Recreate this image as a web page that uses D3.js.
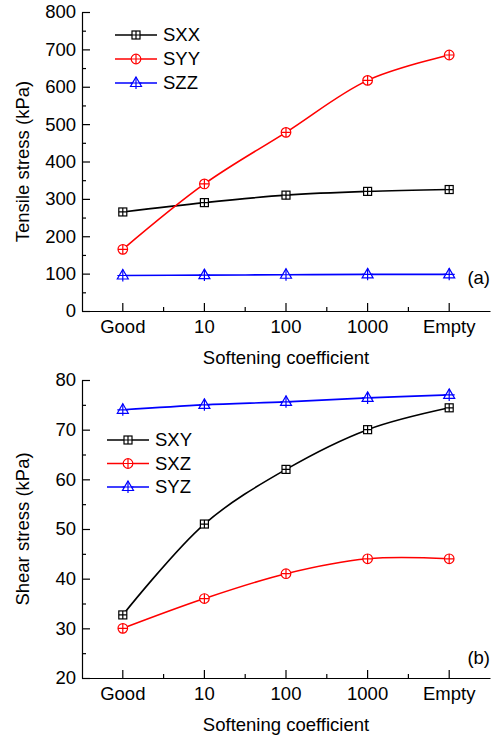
<!DOCTYPE html>
<html><head><meta charset="utf-8">
<script src="https://cdn.jsdelivr.net/npm/d3@7"></script>
<style>body{margin:0;background:#fff}svg{display:block}text{font-family:"Liberation Sans",Arial,sans-serif;fill:#000}</style>
</head><body><svg id="c" width="497" height="736"></svg>
<script>
const categories = ["Good","10","100","1000","Empty"];
const sxx = [265, 290, 310, 320, 325];
const syy = [165, 340, 478, 617, 685];
const szz = [95, 96, 97, 98, 98];
const sxy = [32.7, 51, 62, 70, 74.4];
const sxz = [30, 36, 41, 44, 44];
const syz = [74, 75, 75.6, 76.4, 77];
const topTicks = [0,100,200,300,400,500,600,700,800];
const botTicks = [20,30,40,50,60,70,80];

const svg = d3.select("#c");
const FS = 18.5;
const colors = {black:"#000", red:"#ff0000", blue:"#0000ff"};

function marker(g, type, color){
  if(type==="square"){
    g.append("rect").attr("x",-4).attr("y",-4).attr("width",8).attr("height",8).attr("fill","#fff").attr("stroke",color).attr("stroke-width",1.2);
    g.append("path").attr("d","M-4,0H4M0,-4V4").attr("stroke",color).attr("stroke-width",1.2);
  } else if(type==="circle"){
    g.append("circle").attr("r",4.8).attr("fill","#fff").attr("stroke",color).attr("stroke-width",1.2);
    g.append("path").attr("d","M-4.8,0H4.8M0,-4.8V4.8").attr("stroke",color).attr("stroke-width",1.2);
  } else {
    g.append("path").attr("d","M0,-6L5.5,3.5L-5.5,3.5Z").attr("fill","#fff").attr("stroke",color).attr("stroke-width",1.2);
    g.append("path").attr("d","M0,-6V6M-5.5,0H5.5").attr("stroke",color).attr("stroke-width",1.2);
  }
}

function panel(opts){
  const x = d3.scaleBand().domain(categories).range([82,490]);
  const y = d3.scaleLinear().domain(opts.ydom).range([opts.y0, opts.y1]);
  const g = svg.append("g");
  g.append("g").attr("transform","translate(82,0)")
    .call(d3.axisLeft(y).tickValues(opts.minor).tickSize(-4).tickSizeOuter(0).tickFormat(""))
    .call(s=>s.select(".domain").remove())
    .call(s=>s.selectAll("line").attr("stroke","#000").attr("stroke-width",1.2));
  g.append("g").attr("transform","translate(82,0)")
    .call(d3.axisLeft(y).tickValues(opts.ticks).tickSize(-8).tickSizeOuter(0).tickPadding(6))
    .call(s=>s.selectAll("text").style("font-size",FS+"px").attr("font-family","Liberation Sans, Arial"))
    .call(s=>s.selectAll("line,path").attr("stroke","#000").attr("stroke-width",1.2));
  g.append("g").attr("transform",`translate(0,${opts.y0})`)
    .call(d3.axisBottom(x).tickSize(-8).tickSizeOuter(0).tickPadding(9))
    .call(s=>s.selectAll("text").style("font-size",FS+"px").attr("font-family","Liberation Sans, Arial"))
    .call(s=>s.selectAll("line,path").attr("stroke","#000").attr("stroke-width",1.2));
  g.append("g").selectAll("line").data(categories.slice(1)).join("line")
    .attr("x1",d=>x(d)).attr("x2",d=>x(d)).attr("y1",opts.y0).attr("y2",opts.y0-4)
    .attr("stroke","#000").attr("stroke-width",1.2);
  g.append("text").attr("x",(82+490)/2).attr("y",opts.y0+53).attr("text-anchor","middle").style("font-size",FS+"px").text("Softening coefficient");
  g.append("text").attr("transform",`translate(29,${(opts.y0+opts.y1)/2}) rotate(-90)`).attr("text-anchor","middle").style("font-size",FS+"px").text(opts.ytitle);
  g.append("text").attr("x",490).attr("y",y(opts.labelY)).attr("dy","0.35em").attr("text-anchor","end").style("font-size",FS+"px").text(opts.label);

  const cx = d => x(d)+x.bandwidth()/2;
  const line = d3.line().x((d,i)=>cx(categories[i])).y(d=>y(d)).curve(d3.curveCatmullRom.alpha(0.5));
  opts.series.forEach(s=>{
    g.append("path").datum(s.values).attr("d",line).attr("fill","none").attr("stroke",s.color).attr("stroke-width",1.6);
  });
  opts.series.forEach(s=>{
    s.values.forEach((v,i)=>{
      const m = g.append("g").attr("transform",`translate(${cx(categories[i])},${y(v)})`);
      marker(m, s.type, s.color);
    });
  });
  opts.series.forEach((s,i)=>{
    const ly = opts.legY + i*opts.legDy;
    const lg = g.append("g").attr("transform",`translate(${opts.legX},${ly})`);
    lg.append("line").attr("x1",0).attr("x2",42).attr("stroke",s.color).attr("stroke-width",1.6);
    const m = lg.append("g").attr("transform","translate(21,0)");
    marker(m, s.type, s.color);
    lg.append("text").attr("x",48).attr("dy","0.35em").style("font-size",FS+"px").text(s.name);
  });
}

panel({ydom:[0,800], y0:311, y1:12, ticks:topTicks, minor:d3.range(50,800,100),
  ytitle:"Tensile stress (kPa)", label:"(a)", labelY:90,
  legX:115, legY:35, legDy:24,
  series:[{name:"SXX",values:sxx,color:colors.black,type:"square"},
          {name:"SYY",values:syy,color:colors.red,type:"circle"},
          {name:"SZZ",values:szz,color:colors.blue,type:"tri"}]});
panel({ydom:[20,80], y0:678, y1:380, ticks:botTicks, minor:d3.range(25,80,10),
  ytitle:"Shear stress (kPa)", label:"(b)", labelY:24.2,
  legX:107, legY:440, legDy:23.5,
  series:[{name:"SXY",values:sxy,color:colors.black,type:"square"},
          {name:"SXZ",values:sxz,color:colors.red,type:"circle"},
          {name:"SYZ",values:syz,color:colors.blue,type:"tri"}]});
</script></body></html>
